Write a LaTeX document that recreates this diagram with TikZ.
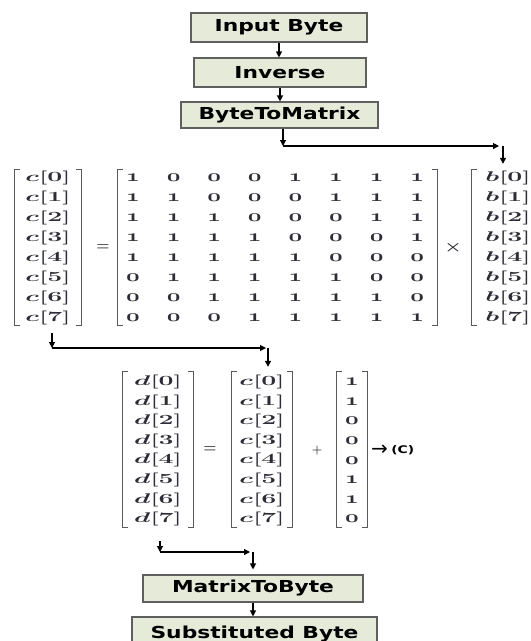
\RequirePackage{fix-cm}
\documentclass[tikz,border=0pt]{standalone}
\usepackage{fontspec}
\usepackage{graphicx}
\usetikzlibrary{arrows.meta,fit}
\newfontfamily\boxfont{DejaVu Sans}[FakeStretch=1.32]
\newfontfamily\symfont{DejaVu Sans}
\newcommand\osn[1]{{\usefont{OML}{cmm}{b}{it}#1}}
\newcommand\sx[1]{\scalebox{1.9}[1]{\bfseries\boldmath #1}}
\newcommand\sxm[1]{\scalebox{1.4}[1]{#1}}
\definecolor{boxfill}{RGB}{230,234,216}
\definecolor{boxline}{RGB}{95,95,95}
\definecolor{ink}{RGB}{45,45,55}
\newcommand\brkt[1]{%
  \draw[brk] ([xshift=5pt]#1.north west) -- (#1.north west) -- (#1.south west) -- ([xshift=5pt]#1.south west);
  \draw[brk] ([xshift=-5pt]#1.north east) -- (#1.north east) -- (#1.south east) -- ([xshift=-5pt]#1.south east);}
\begin{document}
\begin{tikzpicture}[x=1pt,y=-1pt,
  box/.style={draw=boxline, fill=boxfill, line width=1.1pt, inner sep=0pt,
    font=\boxfont\bfseries\fontsize{16.5}{16.5}\selectfont, text=black},
  arr/.style={-{Triangle[length=6pt,width=6pt]}, line width=1.1pt},
  el/.style={inner sep=0pt, text=ink, font=\fontsize{14}{14}\selectfont},
  me/.style={inner sep=0pt, text=ink, font=\fontsize{17}{17}\selectfont},
  op/.style={inner sep=0pt, text=ink, font=\fontsize{15}{15}\selectfont\boldmath},
  vec/.style={inner sep=0pt, draw=none},
  brk/.style={draw=black!65, line width=1.2pt},
]
\fill[white] (0,0) rectangle (531,641);
\useasboundingbox (0,0) rectangle (531,641);

% process boxes
\node[box, minimum width=176pt, minimum height=29pt] (in)  at (279,27.5) {Input Byte};
\node[box, minimum width=172pt, minimum height=29pt] (inv) at (280,72.5) {Inverse};
\node[box, minimum width=197pt, minimum height=26pt] (b2m) at (279.5,115) {ByteToMatrix};
\node[box, minimum width=220pt, minimum height=27pt] (m2b) at (253,588.5) {MatrixToByte};
\node[box, minimum width=245pt, minimum height=34pt] (sub) at (254.5,634) {Substituted Byte};

% first equation
\foreach \i in {0,...,7} {
  \node[el] (c\i) at (48,{178+20*\i}) {\sx{$c$[\i]}};
  \node[el] (b\i) at (508,{178+20*\i}) {\sx{$b$[\i]}};
}
\foreach \row [count=\r from 0] in {{1,0,0,0,1,1,1,1},{1,1,0,0,0,1,1,1},{1,1,1,0,0,0,1,1},{1,1,1,1,0,0,0,1},{1,1,1,1,1,0,0,0},{0,1,1,1,1,1,0,0},{0,0,1,1,1,1,1,0},{0,0,0,1,1,1,1,1}} {
  \foreach \v [count=\c from 0] in \row {
    \node[me] (m\r\c) at ({133+40.6*\c},{178+20*\r}) {\sxm{\osn{\v}}};
  }
}
\node[vec, fit={(15,170)(81,325)}] (cv) {};
\node[vec, fit={(118,170)(437,325)}] (mv) {};
\node[vec, fit={(472,170)(537,325)}] (bv) {};
\brkt{cv}\brkt{mv}\brkt{bv}
\node[op] (eq1) at (103,248) {$=$};
\node[op] (tm) at (453,248) {\scalebox{1.3}[1]{$\times$}};

% second equation
\foreach \v [count=\i from 0] in {1,1,0,0,0,1,1,0} {
  \node[el] (d\i) at (158,{382+19.6*(\i)}) {\sx{$d$[\i]}};
  \node[el] (e\i) at (262,{382+19.6*(\i)}) {\sx{$c$[\i]}};
  \node[me] (k\i) at (352,{382+19.6*(\i)}) {\sxm{\osn{\v}}};
}
\node[vec, fit={(123,372)(193,527)}] (dv) {};
\node[vec, fit={(232,372)(292,527)}] (ev) {};
\node[vec, fit={(337,372)(367,527)}] (kv) {};
\brkt{dv}\brkt{ev}\brkt{kv}
\node[op] (eq2) at (210,450) {$=$};
\node[op] (pl) at (317,450) {\scalebox{0.8}{$+$}};
\node[anchor=west, inner sep=0pt, text=black, font=\symfont\fontsize{20}{20}\selectfont] (ar) at (371,450) {→};
\node[anchor=west, inner sep=0pt, text=black, font=\boxfont\bfseries\fontsize{10.5}{10.5}\selectfont] (cl) at ([xshift=3pt]ar.east) {(C)};

% connectors
\draw[arr] (in.south) -- (in.south |- inv.north);
\draw[arr] (inv.south) -- (inv.south |- b2m.north);
\coordinate (t1) at (283,146);
\coordinate (t2) at (499,146);
\draw[arr] ([xshift=3.5pt]b2m.south) -- (t1);
\draw[arr] (t1) -- (t2);
\draw[arr, shorten >=6pt] ([xshift=4pt]t2) -- ([xshift=-1.5pt]bv.north);

\coordinate (u1) at (52,348);
\coordinate (u2) at (266,348);
\draw[arr] ([shift={(4,8)}]cv.south) -- (u1);
\draw[arr] (u1) -- (u2);
\draw[arr, shorten >=5pt] ([xshift=2pt]u2) -- ([xshift=6pt]ev.north);

\coordinate (w1) at (160,552);
\coordinate (w2) at (250,552);
\draw[arr] ([shift={(2,14)}]dv.south) -- (w1);
\draw[arr] (w1) -- (w2);
\draw[arr, shorten >=5pt] ([xshift=3pt]w2) -- (m2b.north);
\draw[arr] (m2b.south) -- (m2b.south |- sub.north);
\end{tikzpicture}
\end{document}
